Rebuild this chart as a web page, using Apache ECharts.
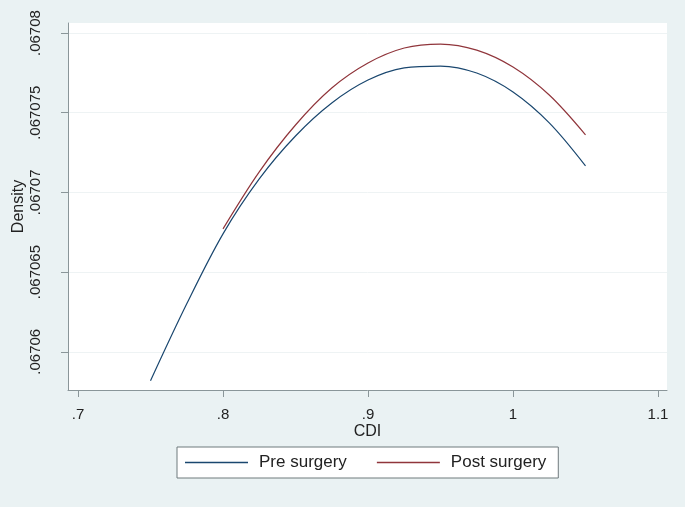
<!DOCTYPE html>
<html>
<head>
<meta charset="utf-8">
<script src="https://cdn.jsdelivr.net/npm/echarts@6/dist/echarts.min.js"></script>
<style>
    html, body { margin: 0; padding: 0; background: #eaf2f3; }
    #main { width: 685px; height: 507px; }
</style>
</head>
<body>
<div id="main"></div>
<script>
// CDI values where the densities were evaluated
const preX = [0.75, 0.775, 0.8, 0.825, 0.85, 0.875, 0.9, 0.925, 0.95, 0.975, 1.0, 1.025, 1.05];
const preDensity = [0.06705818, 0.06706301, 0.0670674, 0.06707085, 0.06707354, 0.06707561, 0.06707705,
    0.06707781, 0.06707793, 0.06707749, 0.0670763, 0.06707436, 0.06707166];
const postX = [0.8, 0.825, 0.85, 0.875, 0.9, 0.925, 0.95, 0.975, 1.0, 1.025, 1.05];
const postDensity = [0.06706771, 0.06707129, 0.06707423, 0.06707655, 0.06707812, 0.06707906, 0.06707931,
    0.06707893, 0.06707787, 0.06707611, 0.06707361];
const xTicks = [0.7, 0.8, 0.9, 1.0, 1.1];
const xTickLabels = ['.7', '.8', '.9', '1', '1.1'];
const yTicks = [0.06706, 0.067065, 0.06707, 0.067075, 0.06708];
const yTickLabels = ['.06706', '.067065', '.06707', '.067075', '.06708'];

const font = 'Liberation Sans, Arial, sans-serif';
const axisGrey = '#8a9699';

function pick(ticks, labels) {
    return function (v) {
        for (let i = 0; i < ticks.length; i++) {
            if (Math.abs(ticks[i] - v) < 1e-9) return labels[i];
        }
        return '';
    };
}

const chart = echarts.init(document.getElementById('main'));
chart.setOption({
    backgroundColor: '#eaf2f3',
    animation: false,
    grid: {
        left: 68,
        right: 18,
        top: 23,
        bottom: 117,
        outerBoundsMode: 'none',
        show: true,
        backgroundColor: '#ffffff',
        borderWidth: 0
    },
    legend: {
        left: 177,
        top: 447,
        padding: [7, 12, 7, 8],
        itemGap: 30,
        itemWidth: 63,
        itemHeight: 1.5,
        icon: 'rect',
        backgroundColor: '#ffffff',
        borderColor: '#6f7a7d',
        borderWidth: 1,
        textStyle: { fontFamily: font, fontSize: 17, color: '#222', padding: [0, 0, 0, 6] },
        data: ['Pre surgery', 'Post surgery']
    },
    xAxis: {
        type: 'value',
        min: 0.6931,
        max: 1.1062,
        name: 'CDI',
        nameLocation: 'middle',
        nameGap: 34,
        nameMoveOverlap: false,
        nameTextStyle: { fontFamily: font, fontSize: 16, color: '#222' },
        axisLine: { show: true, lineStyle: { color: axisGrey } },
        axisTick: { show: true, length: 7, customValues: xTicks, lineStyle: { color: axisGrey } },
        axisLabel: {
            customValues: xTicks,
            formatter: pick(xTicks, xTickLabels),
            fontFamily: font, fontSize: 15, color: '#222', margin: 17
        },
        splitLine: { show: false }
    },
    yAxis: {
        type: 'value',
        min: 0.0670576,
        max: 0.06708063,
        name: 'Density',
        nameLocation: 'middle',
        nameGap: 41,
        nameMoveOverlap: false,
        nameRotate: 90,
        nameTextStyle: { fontFamily: font, fontSize: 16, color: '#222' },
        axisLine: { show: true, lineStyle: { color: axisGrey } },
        axisTick: { show: true, length: 7, customValues: yTicks, lineStyle: { color: axisGrey } },
        axisLabel: {
            customValues: yTicks,
            rotate: 90,
            formatter: pick(yTicks, yTickLabels),
            fontFamily: font, fontSize: 15, color: '#222', margin: 25
        },
        splitLine: { show: true, lineStyle: { color: '#eef3f4', width: 1 } }
    },
    series: [
        {
            name: 'Pre surgery',
            type: 'line',
            smooth: 0.34,
            showSymbol: false,
            color: '#1a476f',
            lineStyle: { width: 1.2 },
            data: preX.map((x, i) => [x, preDensity[i]])
        },
        {
            name: 'Post surgery',
            type: 'line',
            smooth: 0.34,
            showSymbol: false,
            color: '#90353b',
            lineStyle: { width: 1.2 },
            data: postX.map((x, i) => [x, postDensity[i]])
        }
    ]
});
</script>
</body>
</html>
